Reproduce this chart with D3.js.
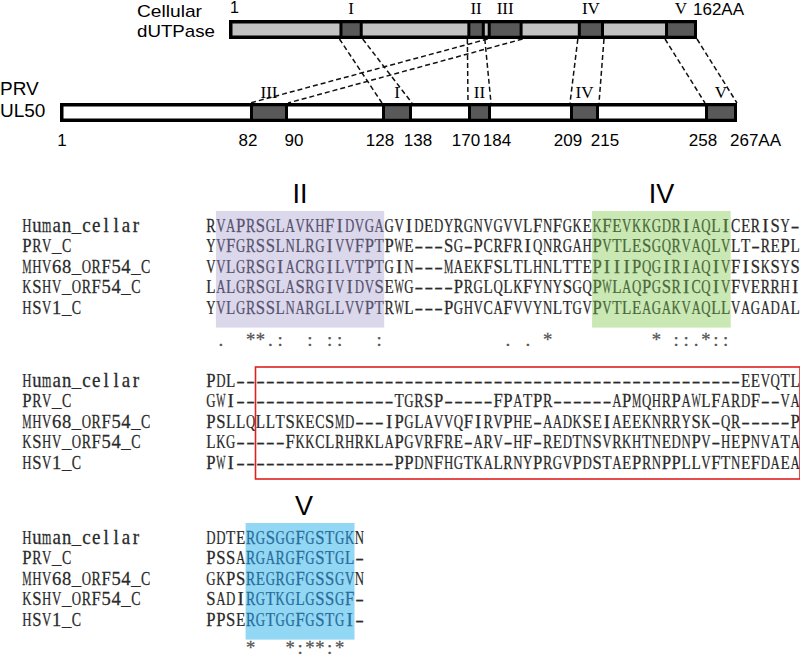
<!DOCTYPE html>
<html><head><meta charset="utf-8">
<script src="https://cdn.jsdelivr.net/npm/d3@7"></script>
<style>body{margin:0;background:#fff}svg{display:block}</style>
</head><body>
<svg id="c" width="800" height="657"></svg>
<script>
// ---------- data: domain diagram ----------
const cellLength = 162;
const cellMotifs = [[39,47],[83,89],[90,102],[121,130],[151,162]];
const cellMotifLabels = ["I","II","III","IV","V"];
const prvLength = 267;
const prvTicks = [1,82,90,128,138,170,184,209,215,258,267];
const prvMotifs = [[82,90],[128,138],[170,184],[209,215],[258,267]];
const prvMotifLabels = ["III","I","II","IV","V"];
const motifLinks = [1,2,0,3,4]; // cellular motif i -> PRV motif index

// ---------- data: alignment ----------
const names = ["Human_cellar","PRV_C","MHV68_ORF54_C","KSHV_ORF54_C","HSV1_C"];
const block1 = [
  "RVAPRSGLAVKHFIDVGAGVIDEDYRGNVGVVLFNFGKEKFEVKKGDRIAQLICERISY-",
  "YVFGRSSLNLRGIVVFPTPWE---SG-PCRFRIQNRGAHPVTLESGQRVAQLVLT-REPL",
  "VVLGRSGIACRGILVTPTGIN---MAEKFSLTLHNLTTEPIIIPQGIRIAQIVFISKSYS",
  "LALGRSGLASRGIVIDVSEWG----PRGLQLKFYNYSGQPWLAQPGSRICQIVFVERRHI",
  "YVLGRSSLNARGLLVVPTRWL---PGHVCAFVVYNLTGVPVTLEAGAKVAQLLVAGADAL"
];
const block1Cons = " .  **.:  : ::   :            . . *          * ::.*::       ";
const block2 = [
  "PDL---------------------------------------------------EEVQTL",
  "GWI----------------TGRSP-----FPATPR------APMQHRPAWLFARDF--VA",
  "PSLLQLLTSKECSMD---IPGLAVVQFIRVPHE-AADKSEIAEEKNRRYSK-QR-----P",
  "LKG-----FKKCLRHRKLAPGVRFRE-ARV-HF-REDTNSVRKHTNEDNPV-HEPNVATA",
  "PWI----------------PPDNFHGTKALRNYPRGVPDSTAEPRNPPLLVFTNEFDAEA"
];
const block3 = [
  "DDTERGSGGFGSTGKN",
  "PSSARGARGFGSTGL-",
  "GKPSREGRGFGSSGVN",
  "SADIRGTKGLGSSGF-",
  "PPSERGTGGFGSTGI-"
];
const block3Cons = "    *   *:**:*  ";
const block1Motifs = [{label:"II", from:1, to:17, key:"purple"}, {label:"IV", from:39, to:52, key:"green"}];
const block2Frame = {from:5, to:59};
const block3Motifs = [{label:"V", from:4, to:14, key:"blue"}];

// ---------- styles ----------
const shade = {purple:"#dcd8ec", green:"#c9e8b4", blue:"#92d7f3"};
const shadeText = {purple:"#57526e", green:"#4b693a", blue:"#286c9b"};
const seqColor = "#2a2a2a";

const svg = d3.select("#c");

// ---------- domain diagram ----------
const xCell = d3.scaleLinear().domain([1, cellLength]).range([229, 697]);
const xPrv = d3.scaleLinear().domain(prvTicks).range([60,250,288,382,412,468,491,570,599,705,737]);
const cellY = [20, 39], prvY = [103, 122];
const bw = 3.5;

const links = svg.append("g").attr("stroke","#111").attr("stroke-width",1.5)
  .attr("stroke-dasharray","5,3").attr("fill","none");
cellMotifs.forEach((m, i) => {
  const p = prvMotifs[motifLinks[i]];
  [0,1].forEach(k => {
    links.append("line")
      .attr("x1", xCell(m[k])).attr("y1", cellY[1])
      .attr("x2", xPrv(p[k])).attr("y2", prvY[0]);
  });
});

function drawBar(scale, lo, hi, y, fill, motifs) {
  const g = svg.append("g");
  g.append("rect").attr("x", scale(lo)+bw/2).attr("y", y[0]+bw/2)
    .attr("width", scale(hi)-scale(lo)-bw).attr("height", y[1]-y[0]-bw)
    .attr("fill", fill).attr("stroke","#000").attr("stroke-width", bw);
  motifs.forEach(m => {
    g.append("rect").attr("x", scale(m[0])+1.5).attr("y", y[0]+bw/2)
      .attr("width", Math.max(1, scale(m[1])-scale(m[0])-3)).attr("height", y[1]-y[0]-bw)
      .attr("fill","#595959").attr("stroke","#000").attr("stroke-width",3);
  });
}
drawBar(xCell, 1, cellLength, cellY, "#c2c2c2", cellMotifs);
drawBar(xPrv, 1, prvLength, prvY, "#ffffff", prvMotifs);

const sans = "Arial, 'Liberation Sans', sans-serif";
const serif = "'Times New Roman', 'Liberation Serif', serif";
svg.append("text").attr("x",137).attr("y",17).attr("font-family",sans).attr("font-size",17)
  .attr("textLength",65).attr("lengthAdjust","spacingAndGlyphs").text("Cellular");
svg.append("text").attr("x",137).attr("y",37).attr("font-family",sans).attr("font-size",17)
  .attr("textLength",78).attr("lengthAdjust","spacingAndGlyphs").text("dUTPase");
svg.append("text").attr("x",0).attr("y",95).attr("font-family",sans).attr("font-size",19).text("PRV");
svg.append("text").attr("x",0).attr("y",117).attr("font-family",sans).attr("font-size",19).text("UL50");

svg.append("text").attr("x", xCell(1)+1).attr("y",13).attr("font-family",sans).attr("font-size",16).text("1");
svg.append("text").attr("x", xCell(cellLength)-4).attr("y",15).attr("font-family",sans).attr("font-size",17).text(cellLength + "AA");
cellMotifs.forEach((m,i) => {
  svg.append("text").attr("x",(xCell(m[0])+xCell(m[1]))/2).attr("y",14)
    .attr("text-anchor","middle").attr("font-family",serif).attr("font-size",17).text(cellMotifLabels[i]);
});
prvMotifs.forEach((m,i) => {
  svg.append("text").attr("x",(xPrv(m[0])+xPrv(m[1]))/2).attr("y",98)
    .attr("text-anchor","middle").attr("font-family",serif).attr("font-size",17).text(prvMotifLabels[i]);
});
prvTicks.forEach((t,i) => {
  const last = i === prvTicks.length-1;
  const isEnd = prvMotifs.some(m => m[1] === t);
  const isStart = prvMotifs.some(m => m[0] === t);
  const dx = last ? -7 : isEnd ? 6 : isStart ? -2 : 2;
  svg.append("text").attr("x", xPrv(t) + dx).attr("y",146)
    .attr("text-anchor", last ? "start" : "middle")
    .attr("font-family",sans).attr("font-size",17).text(last ? t + "AA" : t);
});

// ---------- alignment ----------
const mono = "'Liberation Serif', 'Times New Roman', serif";
const pitch = 9.9, seqX0 = 206, nameX0 = 22, fs = 19;
const col = d3.scaleLinear().domain([0,1]).range([seqX0, seqX0+pitch]);

function drawChars(g, str, x0, y, colorFn) {
  const chars = str.split("");
  const t = g.selectAll(null).data(chars).join("text")
    .attr("font-family", mono).attr("font-size", fs)
    .attr("text-anchor","middle")
    .attr("fill", (c,i) => colorFn(i))
    .attr("stroke", (c,i) => colorFn(i)).attr("stroke-width", 0.25)
    .text(c => c === " " ? "" : c);
  t.each(function(c,i){
    const w = this.getComputedTextLength() || 1;
    let s = 1;
    if (c === "-") s = 8.6 / w;
    else if (w > pitch - 0.6) s = (pitch - 0.6) / w;
    const sy = /[a-z]/.test(c) ? 1.12 : 1;
    d3.select(this).attr("transform", `translate(${x0 + pitch*i + pitch/2},${y}) scale(${s},${sy})`);
  });
}

function drawBlock(seqs, baseY, step, motifs, cons, consY) {
  const g = svg.append("g");
  motifs.forEach(m => {
    g.append("rect").attr("x", col(m.from)).attr("width", col(m.to+1)-col(m.from))
      .attr("y", baseY-21).attr("height", step*4 + 35)
      .attr("fill", shade[m.key]);
  });
  seqs.forEach((s, r) => {
    const y = baseY + r*step;
    drawChars(g, names[r], nameX0, y, () => seqColor);
    drawChars(g, s, seqX0, y, i => {
      const m = motifs.find(m => i >= m.from && i <= m.to);
      return m ? shadeText[m.key] : seqColor;
    });
  });
  if (cons) drawChars(g, cons, seqX0, consY, () => "#555");
  return g;
}

const step = 20.4;
drawBlock(block1, 232, step, block1Motifs, block1Cons, 346);
drawBlock(block2, 387, step, [], null, 0);
drawBlock(block3, 544, step, block3Motifs, block3Cons, 654);

svg.append("rect").attr("x", col(block2Frame.from)).attr("y", 367)
  .attr("width", col(block2Frame.to+1)-col(block2Frame.from)).attr("height", 112)
  .attr("fill","none").attr("stroke","#e02020").attr("stroke-width",1.6);

block1Motifs.concat(block3Motifs).forEach(m => {
  const isV = m.label === "V";
  svg.append("text").attr("x", (col(m.from)+col(m.to+1))/2 + (isV ? 4 : 0))
    .attr("y", isV ? 515 : 203).attr("text-anchor","middle")
    .attr("font-family",sans).attr("font-size",27).text(m.label);
});
</script>
</body></html>
